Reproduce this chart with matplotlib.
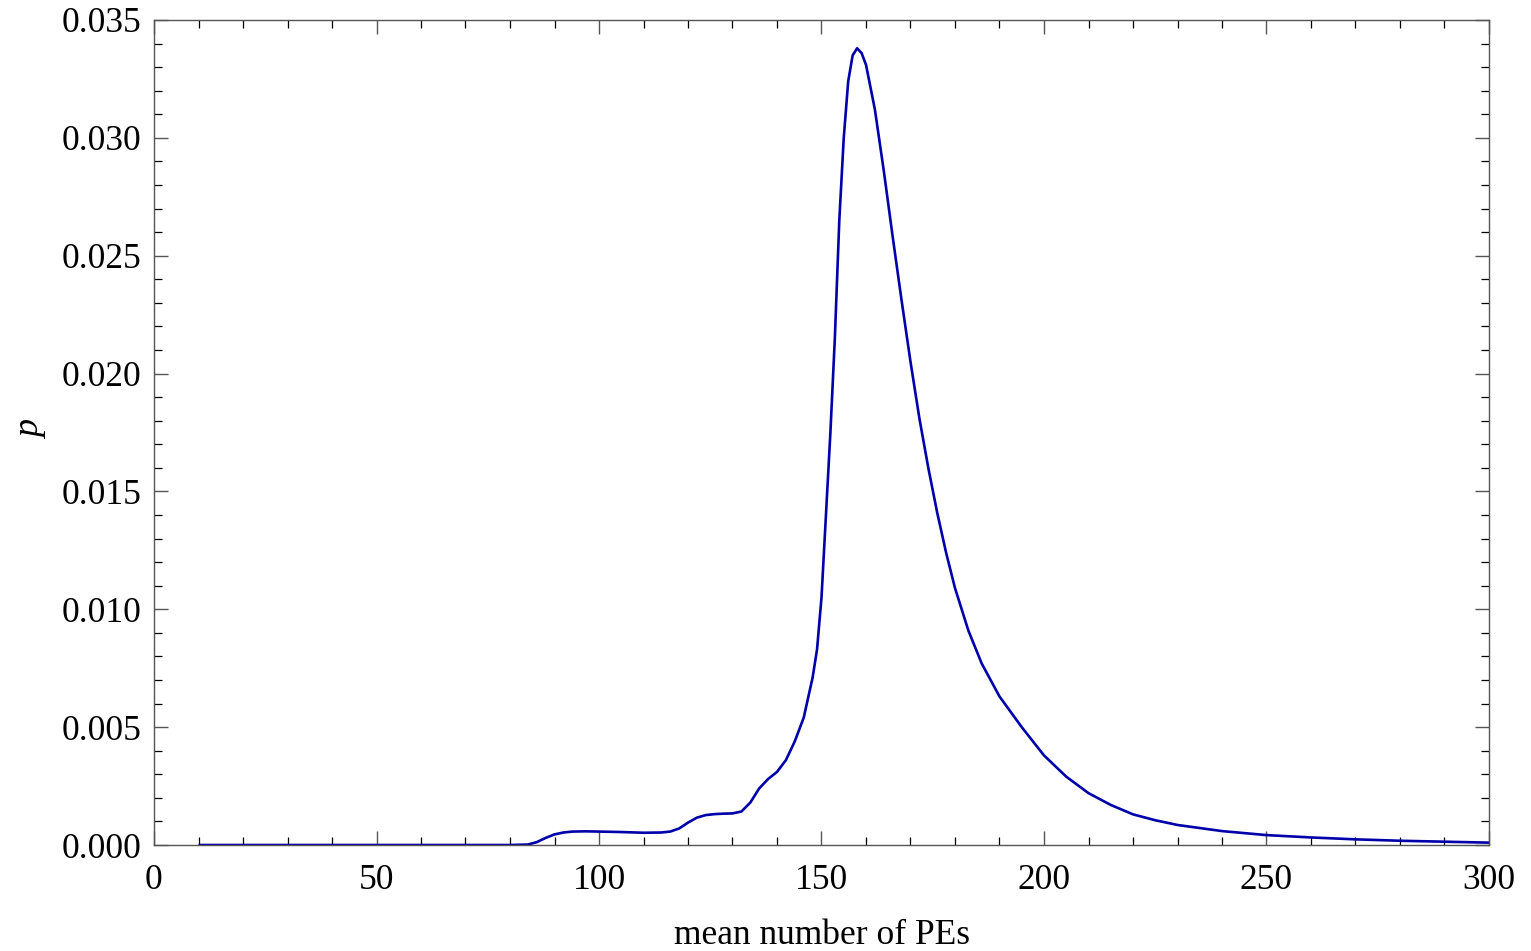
import matplotlib
matplotlib.use("Agg")
import matplotlib.pyplot as plt
from matplotlib.ticker import MultipleLocator, FormatStrFormatter

# Data
mean_pe = [10, 80, 84, 86, 88, 90, 92, 94, 97, 100, 105, 110, 114, 116, 118, 120,
           122, 124, 126, 128, 130, 132, 134, 136, 138, 140, 142, 144, 146, 148,
           149, 150, 151, 152, 153, 154, 155, 156, 157, 158, 159, 160, 162, 164,
           166, 168, 170, 172, 174, 176, 178, 180, 183, 186, 190, 195, 200, 205,
           210, 215, 220, 225, 230, 240, 250, 260, 270, 280, 290, 300]
prob = [0.0, 0.0, 0.00002, 0.00012, 0.00030, 0.00045, 0.00053, 0.00057, 0.00058,
        0.00057, 0.00055, 0.00052, 0.00053, 0.00057, 0.00070, 0.00095,
        0.00116, 0.00127, 0.00131, 0.00133, 0.00134, 0.00142, 0.0018,
        0.0024, 0.0028, 0.0031, 0.0036, 0.0044, 0.0054, 0.0071, 0.0083, 0.0105,
        0.0140, 0.0175, 0.0215, 0.0265, 0.0300, 0.0324, 0.0335, 0.0338, 0.0336,
        0.0331, 0.0312, 0.0286, 0.0258, 0.0231, 0.0205, 0.0181, 0.0160, 0.0141,
        0.0124, 0.0109, 0.0091, 0.0077, 0.0063, 0.0050, 0.0038, 0.0029, 0.0022,
        0.0017, 0.0013, 0.00105, 0.00085, 0.00059, 0.00042, 0.00032, 0.00024,
        0.00018, 0.00014, 0.0001]

plt.rcParams['font.family'] = ['Liberation Serif', 'DejaVu Serif']

W, H = 1531, 951
fig = plt.figure(figsize=(W / 100, H / 100), dpi=100)
ax = fig.add_axes([154/W, 1 - 845/H, (1489-154)/W, (845-20)/H])

ax.plot(mean_pe, prob, color='#0000aa', lw=1.9, solid_joinstyle='round',
        solid_capstyle='butt')

ax.set_xlim(0, 300)
ax.set_ylim(0, 0.035)
ax.xaxis.set_major_locator(MultipleLocator(50))
ax.xaxis.set_minor_locator(MultipleLocator(10))
ax.yaxis.set_major_locator(MultipleLocator(0.005))
ax.yaxis.set_minor_locator(MultipleLocator(0.001))
ax.yaxis.set_major_formatter(FormatStrFormatter('%.3f'))

for s in ax.spines.values():
    s.set_color('#555555')
    s.set_linewidth(1.0)

ax.tick_params(which='both', direction='in', top=True, right=True,
               labelsize=25.5, colors='#555555', labelcolor='black')
ax.tick_params(which='major', length=10, width=1.0)
ax.tick_params(axis='x', which='major', pad=14)
ax.tick_params(axis='y', which='major', pad=9)
ax.tick_params(which='minor', length=6, width=0.9, colors='black')

fig.text((154 + 1489) / 2 / W, 1 - 944 / H, 'mean number of PEs',
         fontsize=25.5, ha='center', va='baseline')
fig.text(32 / W, 1 - 430 / H, 'p', fontsize=26, style='italic',
         rotation=90, ha='center', va='center')

fig.savefig('out.png', dpi=100)
